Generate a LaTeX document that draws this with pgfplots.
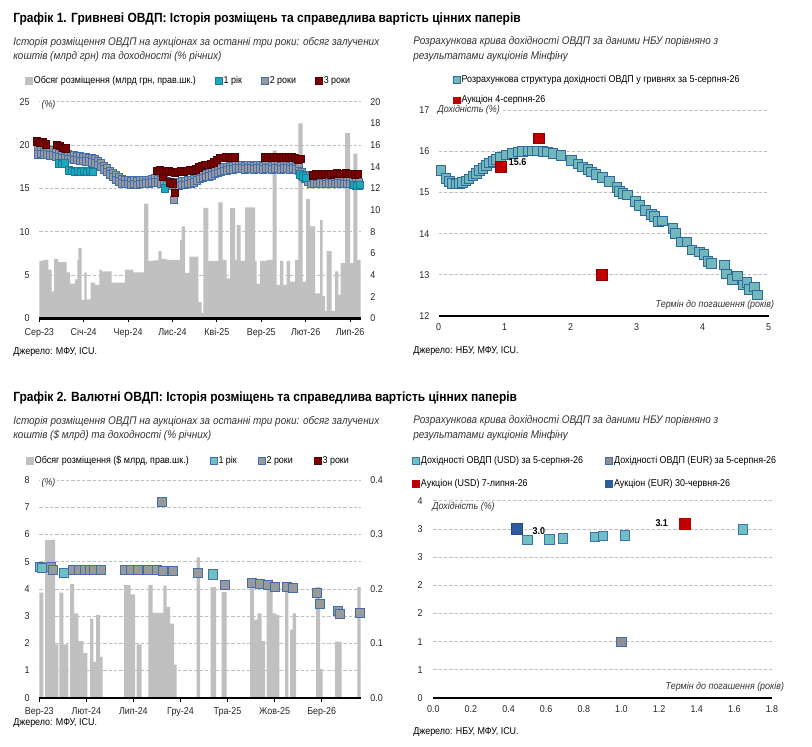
\documentclass[border=0pt]{standalone}
\usepackage{pgfplots}
\pgfplotsset{compat=1.18}
\usepackage{fontspec}
\setmainfont{Liberation Sans}[FakeStretch=0.9]
\definecolor{barGray}{HTML}{C0C0C0}
\definecolor{teal1}{HTML}{1BA9BC}
\definecolor{teal1d}{HTML}{1A7A99}
\definecolor{g2}{HTML}{9A9A9A}
\definecolor{g2d}{HTML}{3F6FB0}
\definecolor{red3}{HTML}{7B0000}
\definecolor{red3d}{HTML}{4F0000}
\definecolor{curveF}{HTML}{72B8BA}
\definecolor{curveD}{HTML}{2D6A9F}
\definecolor{aucR}{HTML}{C00000}
\definecolor{aucRd}{HTML}{8E0000}
\definecolor{aucB}{HTML}{2E5C9E}
\definecolor{aucBd}{HTML}{1F4A85}
\definecolor{eurG}{HTML}{8F8F8F}
\definecolor{tealB}{HTML}{6FC0C0}
\definecolor{gridGray}{HTML}{BFBFBF}
\definecolor{tickText}{HTML}{262626}
\definecolor{subGray}{HTML}{333333}
\newcommand\fs{\fontsize{7.45}{8.8}\selectfont}
\newcommand\fsub{\fontsize{8.3}{10}\selectfont\itshape}
\newcommand\ftit{\fontsize{10}{11.5}\selectfont\bfseries}
\pgfplotsset{
 base/.style={scale only axis, clip=false, anchor=south west,
   /pgf/number format/assume math mode=true,
   tick label style={font=\fs, text=tickText},
   grid style={gridGray, line width=0.5pt, dash pattern=on 2.5pt off 1.5pt},
   major tick length=0pt},
 xbot/.style={axis x line*=bottom, x axis line style={-, line width=1.7pt, black}, xtick style={black, line width=0.8pt}},
 leg/.style n args={2}{legend image code/.code={\draw[fill=#1,draw=#2,line width=0.5pt] (0pt,-2.6pt) rectangle (5.2pt,2.6pt);}},
 lgd/.style={draw=none, fill=none, font=\fs, inner sep=0pt, nodes={inner sep=0.8pt}},
}
\begin{document}
\begin{tikzpicture}
\path[use as bounding box] (0,0) rectangle (609pt,559.5pt);

% ================= TOP LEFT =================
\begin{axis}[base, at={(29.475pt,320.7pt)}, width=241.05pt, height=162.5pt,
 xmin=39.3, xmax=360.7, ymin=0, ymax=25, ytick={0,5,...,25}, ymajorgrids,
 hide x axis, axis y line*=left, y axis line style={draw=none}, yticklabel style={xshift=-3.8pt}]
\end{axis}
\begin{axis}[base, at={(29.475pt,320.7pt)}, width=241.05pt, height=162.5pt,
 xmin=39.3, xmax=360.7, ymin=0, ymax=20, ytick={0,2,...,20},
 hide x axis, axis y line*=right, y axis line style={draw=none}, yticklabel style={xshift=3.8pt}]
\addplot[ybar interval, fill=barGray, draw=none] coordinates {
(39.3,5.3)(43.3,5.4)(48.3,4.5)(51.7,2.5)(54.0,5.5)(58.3,5.2)(66.7,4.25)(70.0,3.2)(75.0,3.6)(77.3,5.4)
(78.3,6.5)(81.7,1.7)(84.3,4.25)(86.7,1.75)(90.7,3.3)(95.0,3.1)(99.3,4.5)(101.7,4.35)(111.7,3.3)(125.0,4.5)
(133.3,4.25)(144.0,10.6)(148.3,5.3)(153.3,5.35)(158.3,6.2)(161.7,5.5)(166.7,5.4)(180.0,7.25)(181.7,8.5)(185.0,4.2)
(189.3,5.7)(198.3,1.5)(201.7,0.5)(203.3,10.2)(208.3,5.3)(218.3,10.7)(222.7,5.4)(226.7,3.7)(230.0,10.2)(235.0,5.4)
(236.7,8.6)(240.7,5.3)(245.0,10.25)(255.0,5.3)(256.7,3.2)(260.0,5.3)(266.7,5.4)(272.7,15.5)(276.7,3.1)(280.0,5.3)
(283.3,3.1)(286.7,5.3)(290.0,3.4)(295.0,5.4)(298.3,18.0)(302.7,3.4)(306.0,11.0)(310.0,8.5)(315.0,2.3)(320.0,9.1)
(322.7,2.05)(325.0,0.7)(326.7,6.2)(331.7,0.7)(335.0,4.35)(338.3,2.2)(340.7,5.1)(345.0,17.1)(350.0,5.1)(353.3,15.2)
(357.3,5.4)(360.7,0)};
\end{axis}
\begin{axis}[base, at={(29.475pt,320.7pt)}, width=241.05pt, height=162.5pt,
 xmin=39.3, xmax=360.7, ymin=0, ymax=25, xbot, axis y line*=left, y axis line style={draw=none}, ytick=\empty,
 xtick={39.3,83.7,128.1,172.5,216.9,261.3,305.7,350.1},
 xticklabels={Сер-23,Січ-24,Чер-24,Лис-24,Кві-25,Вер-25,Лют-26,Лип-26},
 tick align=outside, major tick length=3pt, xticklabel style={yshift=-1pt},
 legend style={lgd, at={(-0.0445,1.0955)}, anchor=west, legend columns=4,
   /tikz/every even column/.append style={column sep=13.5pt}}, legend cell align=left]
\addlegendimage{leg={barGray}{barGray}}\addlegendentry{Обсяг розміщення (млрд грн, прав.шк.)}
\addlegendimage{leg={teal1}{teal1d}}\addlegendentry{1 рік}
\addlegendimage{leg={g2}{g2d}}\addlegendentry{2 роки}
\addlegendimage{leg={red3}{red3d}}\addlegendentry{3 роки}
\addplot[only marks, mark=square*, mark size=2.8pt, mark options={fill=g2, draw=g2d, line width=0.6pt}, forget plot] coordinates {
(38,19.5)(38,18.9)(41,19.6)(41,19.0)(44,19.4)(44,18.9)(47,19.5)(47,18.9)(50,19.3)(50,18.8)(53,19.4)(53,18.8)
(56,19.2)(56,18.7)(59,19.2)(59,18.6)(62,19.0)(62,18.5)(65,18.9)(65,18.5)(68,18.9)(68,18.4)(71,18.8)(71,18.4)
(74,18.8)(74,18.3)(77,18.7)(77,18.3)(80,18.7)(80,18.2)(83,18.6)(83,18.2)(86,18.6)(86,18.1)(89,18.5)(89,18.1)
(92,18.5)(92,18.0)(95,18.4)(95,17.9)(98,18.2)(98,17.7)(101,17.9)(101,17.5)(104,17.6)(104,17.2)(107,17.3)(107,16.9)
(110,17.0)(110,16.6)(113,16.8)(113,16.3)(116,16.5)(116,16.0)(119,16.3)(119,15.8)(122,16.1)(122,15.6)(125,16.0)(125,15.5)
(128,15.9)(128,15.5)(131,15.8)(131,15.4)(134,15.9)(134,15.5)(137,15.8)(137,15.4)(140,15.9)(140,15.5)(143,15.9)(143,15.5)
(146,16.0)(146,15.6)(149,16.0)(149,15.6)(152,16.1)(152,15.7)(155,16.2)(155,15.7)(158,16.1)(158,15.7)(161,16.0)(161,15.6)
(164,15.9)(164,15.5)(167,15.8)(167,15.4)(170,15.7)(170,15.3)(173,15.6)(174,13.7)(176,15.7)(176,15.3)(179,15.7)(179,15.3)
(182,15.8)(182,15.4)(185,15.8)(185,15.4)(188,15.9)(188,15.5)(191,16.0)(191,15.6)(194,16.1)(194,15.7)(197,16.3)(197,15.9)
(200,16.5)(200,16.1)(203,16.6)(203,16.2)(206,16.7)(206,16.3)(209,16.8)(209,16.4)(212,16.9)(212,16.5)(215,17.1)(215,16.7)
(218,17.2)(218,16.8)(221,17.3)(221,16.9)(224,17.4)(224,17.0)(227,17.5)(227,17.1)(230,17.6)(230,17.2)(233,17.6)(233,17.2)
(236,17.7)(236,17.3)(239,17.7)(239,17.3)(242,17.7)(242,17.3)(245,17.6)(245,17.2)(248,17.7)(248,17.3)(251,17.7)(251,17.3)
(254,17.6)(254,17.2)(257,17.7)(257,17.3)(260,17.7)(260,17.3)(263,17.6)(263,17.2)(266,17.7)(266,17.3)(269,17.7)(269,17.3)
(272,17.6)(272,17.2)(275,17.7)(275,17.3)(278,17.7)(278,17.3)(281,17.6)(281,17.2)(284,17.7)(284,17.3)(287,17.7)(287,17.3)
(290,17.6)(290,17.2)(293,17.7)(293,17.3)(296,17.6)(296,17.2)(299,17.4)(299,17.0)(302,16.9)(302,16.5)(305,16.5)(305,16.1)
(308,16.2)(308,15.8)(311,16.0)(311,15.6)(314,16.0)(314,15.6)(317,15.9)(317,15.5)(320,16.0)(320,15.6)(323,16.0)(323,15.6)
(326,15.9)(326,15.5)(329,16.0)(329,15.6)(332,16.0)(332,15.6)(335,15.9)(335,15.5)(338,16.0)(338,15.6)(341,16.0)(341,15.6)
(344,15.9)(344,15.5)(347,15.9)(347,15.5)(350,15.9)(350,15.5)(353,15.8)(353,15.4)(356,15.7)(356,15.3)(359,15.7)(359,15.3)};
\addplot[only marks, mark=square*, mark size=2.8pt, mark options={fill=teal1, draw=teal1d, line width=0.6pt}, forget plot] coordinates {
(59,17.9)(62,17.8)(65,17.9)(69,17.1)(72,17.0)(75,16.9)(78,17.0)(81,16.9)(84,17.0)(87,16.9)(90,17.0)(93,16.9)
(165,15.0)(300,16.6)(303,16.4)(306,16.2)(354,15.4)(357,15.3)(360,15.4)};
\addplot[only marks, mark=square*, mark size=2.8pt, mark options={fill=red3, draw=red3d, line width=0.6pt}, forget plot] coordinates {
(37,20.4)(40,20.3)(43,20.3)(46,20.1)(57,20.0)(60,19.9)(63,19.7)(66,19.6)
(157,17.0)(160,17.1)(163,16.4)(163,17.0)(166,16.9)(169,17.0)(170,15.7)(172,16.9)(173,15.6)(175,14.5)(175,16.8)
(178,16.9)(181,17.0)(184,16.9)(187,17.0)(190,17.1)(193,17.0)(196,17.2)(199,17.4)(202,17.6)(205,17.7)(208,17.7)
(211,17.8)(214,18.0)(217,18.3)(220,18.5)(223,18.5)(226,18.6)(229,18.6)(232,18.6)(235,18.6)
(265,18.6)(268,18.6)(271,18.5)(274,18.6)(277,18.6)(280,18.5)(283,18.6)(286,18.6)(289,18.5)(292,18.6)(295,18.5)
(298,18.3)(301,18.4)(313,16.5)(316,16.6)(319,16.7)(322,16.6)(325,16.7)(328,16.7)(331,16.6)(334,16.7)(337,16.8)
(340,16.7)(343,16.7)(346,16.8)(349,16.7)(352,16.7)(355,16.6)(358,16.7)};
\end{axis}

% ================= TOP RIGHT =================
\begin{axis}[base, at={(329.025pt,322.5pt)}, width=247.5pt, height=154.5pt,
 xmin=0, xmax=5, ymin=12, ymax=17, xtick={0,1,2,3,4,5}, ytick={12,13,14,15,16,17}, ymajorgrids,
 xbot, axis y line*=left, y axis line style={draw=none}, yticklabel style={xshift=-3.5pt}, xticklabel style={yshift=-2pt},
 legend style={lgd, at={(0.0424,1.176)}, anchor=north west, legend columns=1, row sep=7pt}, legend cell align=left]
\addlegendimage{leg={curveF}{curveD}}\addlegendentry{Розрахункова структура дохідності ОВДП у гривнях за 5-серпня-26}
\addlegendimage{leg={aucR}{aucR}}\addlegendentry{Аукціон 4-серпня-26}
\addplot[only marks, mark=square*, mark size=3.6pt, mark options={fill=curveF, draw=curveD, line width=0.7pt}, forget plot] coordinates {
(0.035,15.53)(0.11,15.34)(0.16,15.26)(0.21,15.22)(0.26,15.20)(0.31,15.22)(0.36,15.24)(0.41,15.28)(0.46,15.33)
(0.52,15.40)(0.57,15.46)(0.62,15.53)(0.67,15.58)(0.72,15.65)(0.77,15.71)(0.82,15.75)(0.87,15.80)(0.94,15.85)
(1.02,15.91)(1.12,15.95)(1.20,15.98)(1.27,16.00)(1.35,16.01)(1.42,16.01)(1.50,16.01)(1.58,16.00)(1.65,15.98)
(1.73,15.95)(1.85,15.89)(2.01,15.77)(2.11,15.69)(2.18,15.62)(2.26,15.56)(2.31,15.50)(2.38,15.44)(2.48,15.36)
(2.59,15.26)(2.70,15.12)(2.74,15.02)(2.79,14.98)(2.86,14.94)(2.98,14.78)(3.04,14.69)(3.13,14.56)(3.22,14.47)
(3.27,14.41)(3.33,14.29)(3.39,14.31)(3.55,14.13)(3.59,14.01)(3.67,13.80)(3.76,13.80)(3.84,13.60)(3.95,13.55)
(4.02,13.50)(4.08,13.33)(4.13,13.28)(4.33,13.24)(4.36,13.02)(4.45,12.89)(4.53,12.97)(4.61,12.75)(4.67,12.81)
(4.71,12.65)(4.78,12.70)(4.83,12.51)};
\addplot[only marks, mark=square*, mark size=4.0pt, mark options={fill=aucR, draw=aucRd, line width=0.7pt}, forget plot] coordinates {
(1.52,16.31)(2.47,13.0)};
\addplot[only marks, mark=square*, mark size=4.0pt, mark options={fill=aucR, draw=aucRd, line width=0.7pt}, forget plot,
 nodes near coords, point meta=y, nodes near coords style={font=\fs\bfseries, text=black, anchor=west, xshift=2.5pt, yshift=3.5pt,
 /pgf/number format/.cd, fixed, fixed zerofill, precision=1}] coordinates {(0.94,15.62)};
\end{axis}

% ================= BOTTOM LEFT =================
\begin{axis}[base, at={(29.475pt,36.2pt)}, width=241.05pt, height=163.3pt,
 xmin=39.3, xmax=360.7, ymin=0, ymax=8, ytick={0,1,...,8}, ymajorgrids,
 hide x axis, axis y line*=left, y axis line style={draw=none}, yticklabel style={xshift=-3.8pt}]
\end{axis}
\begin{axis}[base, at={(29.475pt,36.2pt)}, width=241.05pt, height=163.3pt,
 xmin=39.3, xmax=360.7, ymin=0, ymax=0.4, ytick={0,0.1,0.2,0.3,0.4},
 yticklabel style={xshift=3.8pt, /pgf/number format/.cd, fixed, fixed zerofill, precision=1},
 hide x axis, axis y line*=right, y axis line style={draw=none}]
\addplot[ybar interval, fill=barGray, draw=none] coordinates {
(39.3,0.193)(43.3,0)(45,0.29)(55,0.098)(58.3,0)(59.3,0.193)(63.3,0.098)(68.3,0)(70,0.209)(74,0.155)
(78.3,0.104)(83.3,0.082)(87.3,0)(90,0.145)(93.3,0.066)(96,0.152)(100,0.075)(102.7,0)(124,0.207)(130.7,0.19)
(135,0)(136.7,0.098)(141.7,0)(148.3,0.207)(152.7,0.156)(163.3,0.206)(166.7,0.167)(170,0.136)(174,0.061)(176.7,0)
(196.7,0.258)(200,0)(210.7,0.203)(216,0)(221.7,0.194)(226.7,0)(250,0.217)(254,0.143)(257.3,0.155)(261.7,0.104)
(265,0)(266.7,0.213)(272.7,0.155)(276,0.152)(279.3,0)(285,0.203)(288.3,0)(290,0.125)(292.7,0.155)(296,0)
(316,0.203)(320,0.053)(322.7,0)(335,0.103)(341.7,0)(357.3,0.203)(360.7,0)};
\end{axis}
\begin{axis}[base, at={(29.475pt,36.2pt)}, width=241.05pt, height=163.3pt,
 xmin=39.3, xmax=360.7, ymin=0, ymax=8, xbot, axis y line*=left, y axis line style={draw=none}, ytick=\empty,
 xtick={39.3,86.4,133.4,180.5,227.5,274.6,321.7},
 xticklabels={Вер-23,Лют-24,Лип-24,Гру-24,Тра-25,Жов-25,Бер-26},
 tick align=outside, major tick length=3pt, xticklabel style={yshift=-1pt},
 legend style={lgd, at={(-0.0414,1.0886)}, anchor=west, legend columns=4,
   /tikz/every even column/.append style={column sep=15pt}}, legend cell align=left]
\addlegendimage{leg={barGray}{barGray}}\addlegendentry{Обсяг розміщення (\$ млрд, прав.шк.)}
\addlegendimage{leg={tealB}{g2d}}\addlegendentry{1 рік}
\addlegendimage{leg={g2}{g2d}}\addlegendentry{2 роки}
\addlegendimage{leg={red3}{red3d}}\addlegendentry{3 роки}
\addplot[only marks, mark=square*, mark size=3.4pt, mark options={fill=tealB, draw=g2d, line width=0.7pt}, forget plot] coordinates {
(39.5,4.80)(42,4.78)(64,4.57)(213.3,4.53)};
\addplot[only marks, mark=square*, mark size=3.4pt, mark options={fill=g2, draw=g2d, line width=0.7pt}, forget plot] coordinates {
(50.8,4.81)(53.3,4.70)(72.5,4.71)(79,4.71)(84.5,4.71)(89.5,4.71)(94,4.68)(100.5,4.69)(125,4.71)(130.8,4.69)
(138.3,4.71)(147.5,4.71)(156.7,4.71)(163.3,4.65)(173.3,4.65)(198.3,4.59)(224.7,4.16)(251.7,4.22)(260,4.17)
(268.3,4.13)(275,4.07)(286.7,4.06)(293.3,4.02)(317,3.85)(320,3.46)(337.5,3.18)(340,3.08)(359.5,3.11)(161.7,7.2)};
\end{axis}

% ================= BOTTOM RIGHT =================
\begin{axis}[base, at={(324.975pt,36.0pt)}, width=254.0pt, height=148.0pt,
 xmin=0, xmax=1.8, ymin=0, ymax=3.5, xtick={0,0.2,0.4,0.6,0.8,1.0,1.2,1.4,1.6,1.8},
 xticklabel style={yshift=-2pt, /pgf/number format/.cd, fixed, fixed zerofill, precision=1},
 ytick={0,0.5,1,1.5,2,2.5,3,3.5}, yticklabels={0,1,1,2,2,3,3,4}, ymajorgrids,
 xbot, axis y line*=left, y axis line style={draw=none}, yticklabel style={xshift=-4.5pt},
 legend style={lgd, at={(-0.0629,1.2316)}, anchor=north west, legend columns=2, row sep=9pt,
   /tikz/every even column/.append style={column sep=16pt}}, legend cell align=left]
\addlegendimage{leg={tealB}{g2d}}\addlegendentry{Дохідності ОВДП (USD) за 5-серпня-26}
\addlegendimage{leg={eurG}{g2d}}\addlegendentry{Дохідності ОВДП (EUR) за 5-серпня-26}
\addlegendimage{leg={aucR}{aucR}}\addlegendentry{Аукціон (USD) 7-липня-26}
\addlegendimage{leg={aucB}{aucB}}\addlegendentry{Аукціон (EUR) 30-червня-26}
\addplot[only marks, mark=square*, mark size=3.5pt, mark options={fill=tealB, draw=g2d, line width=0.7pt}, forget plot] coordinates {
(0.50,2.80)(0.617,2.81)(0.69,2.83)(0.86,2.86)(0.90,2.87)(1.017,2.88)(1.647,2.99)};
\addplot[only marks, mark=square*, mark size=3.5pt, mark options={fill=eurG, draw=g2d, line width=0.7pt}, forget plot] coordinates {
(1.0,0.99)};
\addplot[only marks, mark=square*, mark size=4.1pt, mark options={fill=aucR, draw=aucR, line width=0.7pt}, forget plot,
 nodes near coords, point meta=y, nodes near coords style={font=\fs\bfseries, text=black, anchor=east, xshift=-9pt, yshift=1pt,
 /pgf/number format/.cd, fixed, fixed zerofill, precision=1}] coordinates {(1.337,3.08)};
\addplot[only marks, mark=square*, mark size=4.1pt, mark options={fill=aucB, draw=aucBd, line width=0.7pt}, forget plot,
 nodes near coords, point meta=y, nodes near coords style={font=\fs\bfseries, text=black, anchor=west, xshift=8pt, yshift=-1pt,
 /pgf/number format/.cd, fixed, fixed zerofill, precision=1}] coordinates {(0.445,2.99)};
\end{axis}

% ================= TEXTS =================
\begin{scope}[x=0.75pt,y=-0.75pt,shift={(0pt,559.5pt)}]
\node[anchor=base west, inner sep=0pt] at (13,22.5) {\ftit Графік 1. Гривневі ОВДП: Історія розміщень та справедлива вартість цінних паперів};
\node[anchor=base west, inner sep=0pt, text=subGray] at (13,45.5) {\fsub Історія розміщення ОВДП на аукціонах за останні три роки: обсяг залучених};
\node[anchor=base west, inner sep=0pt, text=subGray] at (13,59.5) {\fsub коштів (млрд грн) та доходності (\% річних)};
\node[anchor=base west, inner sep=0pt, text=subGray] at (413,44.5) {\fsub Розрахункова крива дохідності ОВДП за даними НБУ порівняно з};
\node[anchor=base west, inner sep=0pt, text=subGray] at (413,60) {\fsub результатами аукціонів Мінфіну};
\node[anchor=base west, inner sep=0pt] at (13,355) {\fs Джерело: МФУ, ICU.};
\node[anchor=base west, inner sep=0pt] at (413,354) {\fs Джерело: НБУ, МФУ, ICU.};
\node[anchor=base west, inner sep=0pt] at (13,401.5) {\ftit Графік 2. Валютні ОВДП: Історія розміщень та справедлива вартість цінних паперів};
\node[anchor=base west, inner sep=0pt, text=subGray] at (13,425) {\fsub Історія розміщення ОВДП на аукціонах за останні три роки: обсяг залучених};
\node[anchor=base west, inner sep=0pt, text=subGray] at (13,439) {\fsub коштів (\$ млрд) та доходності (\% річних)};
\node[anchor=base west, inner sep=0pt, text=subGray] at (413,423.5) {\fsub Розрахункова крива дохідності ОВДП за даними НБУ порівняно з};
\node[anchor=base west, inner sep=0pt, text=subGray] at (413,438.5) {\fsub результатами аукціонів Мінфіну};
\node[anchor=base west, inner sep=0pt] at (13,725.5) {\fs Джерело: МФУ, ICU.};
\node[anchor=base west, inner sep=0pt] at (413,734) {\fs Джерело: НБУ, МФУ, ICU.};
\node[fill=white, inner sep=1pt, text=subGray] at (48.5,104.5) {\fs\itshape (\%)};
\node[fill=white, inner sep=1pt, text=subGray] at (48.5,483) {\fs\itshape (\%)};
\node[fill=white, inner sep=1pt, text=subGray] at (468.7,110) {\fs\itshape Дохідність (\%)};
\node[fill=white, inner sep=1pt, text=subGray] at (463.5,506.7) {\fs\itshape Дохідність (\%)};
\node[anchor=east, inner sep=0pt, text=subGray] at (774.3,305) {\fs\itshape Термін до погашення (років)};
\node[anchor=east, inner sep=0pt, text=subGray] at (784.3,686.7) {\fs\itshape Термін до погашення (років)};
\end{scope}
\end{tikzpicture}
\end{document}
